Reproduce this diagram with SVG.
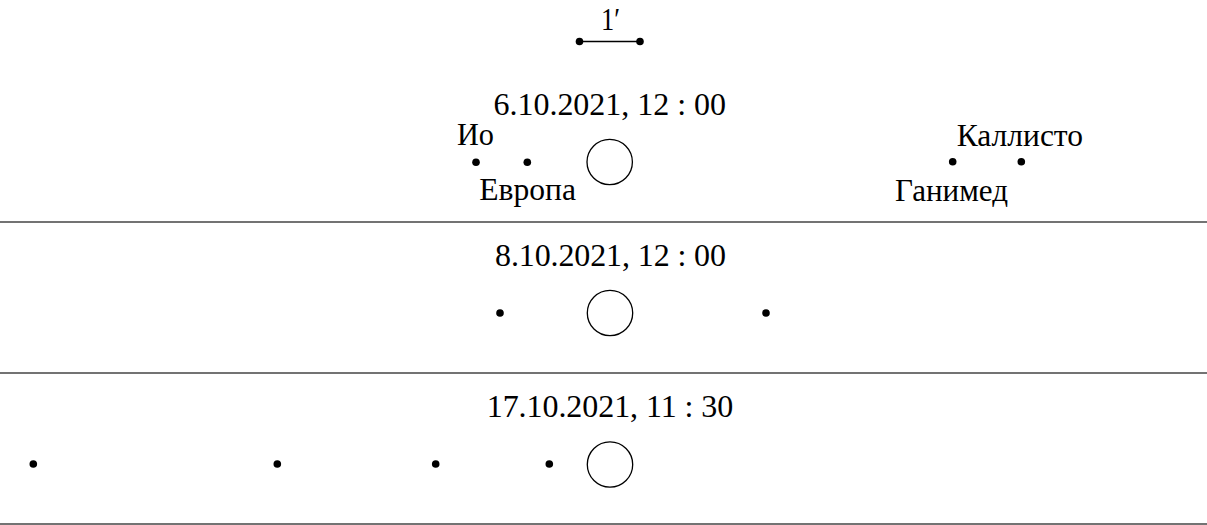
<svg xmlns="http://www.w3.org/2000/svg" width="1207" height="525" viewBox="0 0 1207 525">
<style>
text{font-family:"Liberation Serif","Times New Roman","DejaVu Serif",serif;font-size:32px;fill:#000}
.dot{fill:#000}
.planet{fill:none;stroke:#000;stroke-width:1.3}
.sep{stroke:#444;stroke-width:1.3}
</style>
<rect width="1207" height="525" fill="#fff"/>
<g id="scale">
<line x1="579.5" y1="41.5" x2="640" y2="41.5" stroke="#000" stroke-width="1.3"/>
<circle class="dot" cx="579.5" cy="41.5" r="3.8"/>
<circle class="dot" cx="640" cy="41.5" r="3.8"/>
<text x="601" y="30" textLength="19" lengthAdjust="spacingAndGlyphs">1′</text>
</g>
<g id="panel1">
<text x="493.5" y="115" textLength="232.5" lengthAdjust="spacing">6.10.2021, 12 : 00</text>
<circle class="planet" cx="609.7" cy="162" r="22.7"/>
<g id="io"><circle class="dot" cx="476" cy="162.3" r="3.8"/><text x="457" y="145" textLength="37" lengthAdjust="spacingAndGlyphs">Ио</text></g>
<g id="europa"><circle class="dot" cx="527.3" cy="162.3" r="3.8"/><text x="479.3" y="199.5" textLength="96.7" lengthAdjust="spacingAndGlyphs">Европа</text></g>
<g id="ganymede"><circle class="dot" cx="952.7" cy="161.7" r="3.8"/><text x="895" y="200.5" textLength="113" lengthAdjust="spacingAndGlyphs">Ганимед</text></g>
<g id="callisto"><circle class="dot" cx="1021.3" cy="161.7" r="3.8"/><text x="956.7" y="146" textLength="126.3" lengthAdjust="spacingAndGlyphs">Каллисто</text></g>
</g>
<g id="panel2">
<text x="495" y="266" textLength="231" lengthAdjust="spacing">8.10.2021, 12 : 00</text>
<circle class="planet" cx="610" cy="313" r="22.7"/>
<circle class="dot" cx="500" cy="313" r="3.8"/>
<circle class="dot" cx="766" cy="313" r="3.8"/>
</g>
<g id="panel3">
<text x="486.7" y="416.7" textLength="246.6" lengthAdjust="spacing">17.10.2021, 11 : 30</text>
<circle class="planet" cx="610" cy="464.5" r="22.7"/>
<circle class="dot" cx="33.3" cy="464" r="3.8"/>
<circle class="dot" cx="277.3" cy="464" r="3.8"/>
<circle class="dot" cx="435.7" cy="464" r="3.8"/>
<circle class="dot" cx="549.3" cy="464" r="3.8"/>
</g>
<g id="connectors">
<line class="sep" x1="0" y1="222" x2="1207" y2="222"/>
<line class="sep" x1="0" y1="373" x2="1207" y2="373"/>
<line class="sep" x1="0" y1="524" x2="1207" y2="524"/>
</g>
</svg>
